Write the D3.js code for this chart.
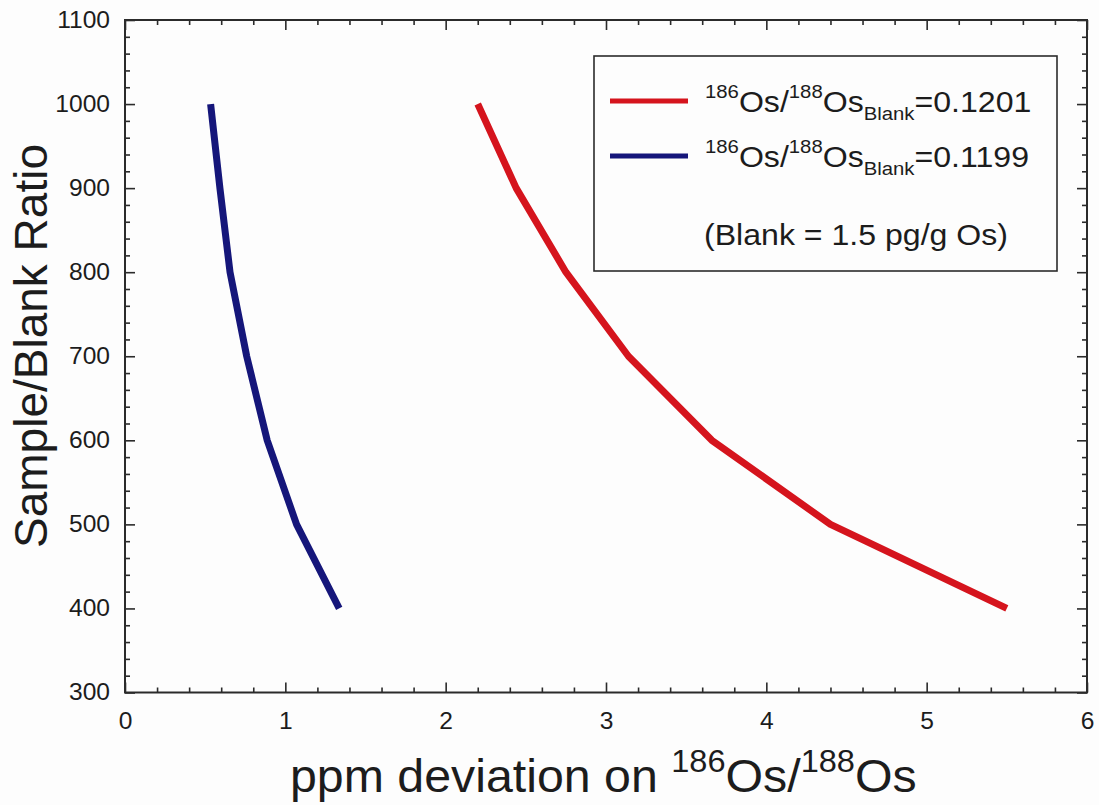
<!DOCTYPE html>
<html>
<head>
<meta charset="utf-8">
<script src="https://cdn.jsdelivr.net/npm/d3@7/dist/d3.min.js"></script>
<style>
  html, body { margin: 0; padding: 0; background: #fdfdfd; }
  svg { display: block; font-family: "Liberation Sans", Arial, Helvetica, sans-serif; }
</style>
</head>
<body>
<svg id="chart" width="1099" height="805"></svg>
<script>
// ---- data ----
const redRatio = [1000, 900, 800, 700, 600, 500, 480, 400];
const redPpm   = [2.20, 2.44, 2.75, 3.14, 3.66, 4.40, 4.62, 5.50];
const blueRatio = [1000, 900, 800, 700, 600, 500, 400];
const bluePpm   = [0.534, 0.592, 0.655, 0.759, 0.887, 1.07, 1.336];
const xTicks = [0, 1, 2, 3, 4, 5, 6];
const yTicks = [300, 400, 500, 600, 700, 800, 900, 1000, 1100];
const legendLabels = ["0.1201", "0.1199"];
const noteText = "(Blank = 1.5 pg/g Os)";

const svg = d3.select("#chart");
const L = 125, R = 1087, T = 20, B = 692.5;
const x = d3.scaleLinear().domain([0, 6]).range([L, R]);
const y = d3.scaleLinear().domain([300, 1100]).range([B, T]);
const axisColor = "#2b2b2b";
const textColor = "#1c1c1c";
const SX = 1.07;

// minor tick values
const xMinor = d3.range(0, 6.0001, 0.2).filter(v => Math.abs(v - Math.round(v)) > 1e-6);
const yMinor = d3.range(300, 1100.001, 20).filter(v => v % 100 !== 0);

function styleAxis(g) {
  g.select(".domain").remove();
  g.selectAll("line").attr("stroke", axisColor).attr("stroke-width", 1.6);
}

// bottom
const gB = svg.append("g").attr("transform", `translate(0,${B})`)
  .call(d3.axisBottom(x).tickValues(xTicks).tickFormat(d3.format("d")).tickSize(-10).tickPadding(20));
styleAxis(gB);
gB.selectAll("text").attr("font-size", 23).attr("fill", textColor)
  .attr("font-family", "Liberation Sans, Arial, sans-serif")
  .attr("transform", `scale(${SX},1)`);
svg.append("g").attr("transform", `translate(0,${B})`)
  .call(d3.axisBottom(x).tickValues(xMinor).tickFormat("").tickSize(-5)).call(styleAxis);

// top
svg.append("g").attr("transform", `translate(0,${T})`)
  .call(d3.axisTop(x).tickValues(xTicks).tickFormat("").tickSize(-10)).call(styleAxis);
svg.append("g").attr("transform", `translate(0,${T})`)
  .call(d3.axisTop(x).tickValues(xMinor).tickFormat("").tickSize(-5)).call(styleAxis);

// left
const gL = svg.append("g").attr("transform", `translate(${L},0)`)
  .call(d3.axisLeft(y).tickValues(yTicks).tickFormat(d3.format("d")).tickSize(-10).tickPadding(14));
styleAxis(gL);
gL.selectAll("text").attr("font-size", 23).attr("fill", textColor)
  .attr("font-family", "Liberation Sans, Arial, sans-serif")
  .attr("transform", `scale(${SX},1)`);
svg.append("g").attr("transform", `translate(${L},0)`)
  .call(d3.axisLeft(y).tickValues(yMinor).tickFormat("").tickSize(-5)).call(styleAxis);

// right
svg.append("g").attr("transform", `translate(${R},0)`)
  .call(d3.axisRight(y).tickValues(yTicks).tickFormat("").tickSize(-10)).call(styleAxis);
svg.append("g").attr("transform", `translate(${R},0)`)
  .call(d3.axisRight(y).tickValues(yMinor).tickFormat("").tickSize(-5)).call(styleAxis);

// frame
svg.append("rect").attr("x", L).attr("y", T).attr("width", R - L).attr("height", B - T)
  .attr("fill", "none").attr("stroke", axisColor).attr("stroke-width", 2);

// lines
const line = d3.line().x(d => x(d[0])).y(d => y(d[1]));
const red = "#d5141d", blue = "#15167a";
svg.append("path").datum(redPpm.map((v, i) => [v, redRatio[i]]))
  .attr("d", line).attr("fill", "none").attr("stroke", red).attr("stroke-width", 7)
  .attr("stroke-linejoin", "round");
svg.append("path").datum(bluePpm.map((v, i) => [v, blueRatio[i]]))
  .attr("d", line).attr("fill", "none").attr("stroke", blue).attr("stroke-width", 7)
  .attr("stroke-linejoin", "round");

// legend
const lg = svg.append("g");
lg.append("rect").attr("x", 594).attr("y", 56).attr("width", 463).attr("height", 215)
  .attr("fill", "#fdfdfd").attr("stroke", axisColor).attr("stroke-width", 1.6);
const rows = [{c: red, y: 101, base: 111.7, lab: legendLabels[0]}, {c: blue, y: 156, base: 166.5, lab: legendLabels[1]}];
rows.forEach(r => {
  lg.append("line").attr("x1", 610).attr("x2", 688).attr("y1", r.y).attr("y2", r.y)
    .attr("stroke", r.c).attr("stroke-width", 5);
  const t = lg.append("text").attr("transform", `translate(705,${r.base}) scale(${SX},1)`)
    .attr("font-size", 30).attr("fill", textColor);
  t.append("tspan").attr("font-size", 19).attr("dy", -14).text("186");
  t.append("tspan").attr("dy", 14).text("Os/");
  t.append("tspan").attr("font-size", 19).attr("dy", -14).text("188");
  t.append("tspan").attr("dy", 14).text("Os");
  t.append("tspan").attr("font-size", 19).attr("dy", 8.5).text("Blank");
  t.append("tspan").attr("dy", -8.5).text("=" + r.lab);
});
lg.append("text").attr("transform", `translate(704,245) scale(${SX},1)`)
  .attr("font-size", 30).attr("fill", textColor).text(noteText);

// axis titles
const xt = svg.append("text").attr("transform", `translate(290,792) scale(1.05,1)`)
  .attr("font-size", 46).attr("fill", textColor);
xt.append("tspan").text("ppm deviation on ");
xt.append("tspan").attr("font-size", 31).attr("dy", -20).text("186");
xt.append("tspan").attr("dy", 20).text("Os/");
xt.append("tspan").attr("font-size", 31).attr("dy", -20).text("188");
xt.append("tspan").attr("dy", 20).text("Os");

svg.append("text").attr("transform", `translate(47,346) rotate(-90)`)
  .attr("text-anchor", "middle").attr("font-size", 46).attr("fill", textColor)
  .text("Sample/Blank Ratio");
</script>
</body>
</html>
